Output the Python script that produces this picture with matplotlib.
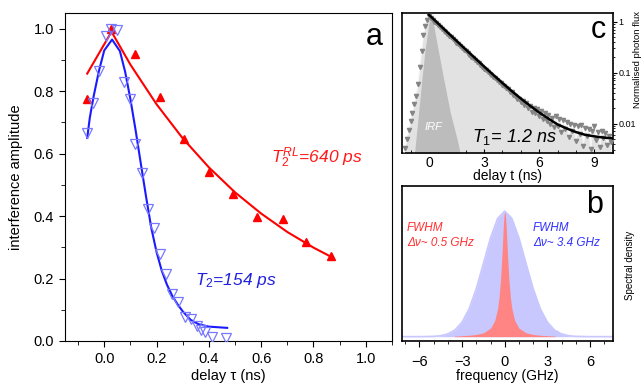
import matplotlib
matplotlib.use('Agg')
import matplotlib.pyplot as plt
from matplotlib.ticker import MultipleLocator, FixedLocator, NullFormatter, LogLocator

plt.rcParams['font.family'] = ['Liberation Sans', 'DejaVu Sans']
plt.rcParams['mathtext.fontset'] = 'custom'
plt.rcParams['mathtext.rm'] = 'Liberation Sans'
plt.rcParams['mathtext.it'] = 'Liberation Sans:italic'

# ---- panel a: interference amplitude vs delay ----
red_tau = [-0.065, 0.025, 0.119, 0.213, 0.306, 0.400, 0.494, 0.585, 0.682, 0.773, 0.867]
red_amp = [0.774, 1.0, 0.919, 0.781, 0.648, 0.540, 0.470, 0.397, 0.391, 0.317, 0.272]
red_fit_tau = [-0.065, 0.028, 0.1, 0.2, 0.3, 0.4, 0.5, 0.6, 0.7, 0.8, 0.873]
red_fit_amp = [0.856, 0.99, 0.885, 0.758, 0.649, 0.556, 0.476, 0.408, 0.349, 0.299, 0.267]

blue_tau = [-0.065, -0.041, -0.019, 0.005, 0.025, 0.05, 0.074, 0.097, 0.119, 0.144, 0.166,
            0.191, 0.215, 0.238, 0.260, 0.283, 0.310, 0.333, 0.354, 0.371, 0.386, 0.412, 0.466]
blue_amp = [0.667, 0.761, 0.865, 0.975, 1.0, 0.995, 0.829, 0.776, 0.630, 0.537, 0.422,
            0.363, 0.278, 0.213, 0.152, 0.125, 0.077, 0.070, 0.047, 0.036, 0.030, 0.013, 0.011]
blue_fit_tau = [-0.065, -0.055, -0.04, -0.02, 0.0, 0.03, 0.06, 0.08, 0.10, 0.12, 0.14, 0.16,
                0.18, 0.20, 0.22, 0.24, 0.26, 0.28, 0.30, 0.33, 0.36, 0.40, 0.47]
blue_fit_amp = [0.650, 0.715, 0.785, 0.865, 0.930, 0.965, 0.928, 0.862, 0.775, 0.675, 0.568, 0.462,
                0.362, 0.285, 0.225, 0.180, 0.145, 0.118, 0.095, 0.068, 0.054, 0.046, 0.042]

# ---- panel c: time-resolved photon flux ----
t_data = [-1.4, -1.3, -1.2, -1.1, -1.0, -0.9, -0.8, -0.7, -0.6, -0.5, -0.4, -0.3, -0.2, -0.1,
          0.0, 0.1, 0.2, 0.3, 0.4, 0.5, 0.6, 0.7, 0.8, 0.9, 1.0, 1.1, 1.2, 1.3, 1.4, 1.5,
          1.6, 1.7, 1.8, 1.9, 2.0, 2.1, 2.2, 2.3, 2.4, 2.5, 2.6, 2.7, 2.8, 2.9, 3.0,
          3.1, 3.2, 3.3, 3.4, 3.5, 3.6, 3.7, 3.8, 3.9, 4.0, 4.1, 4.2, 4.3, 4.4, 4.5,
          4.6, 4.7, 4.8, 4.9, 5.0, 5.1, 5.2, 5.3, 5.4, 5.5, 5.6, 5.7, 5.8, 5.9, 6.0,
          6.1, 6.2, 6.3, 6.4, 6.5, 6.6, 6.7, 6.8, 6.9, 7.0, 7.1, 7.2, 7.3, 7.4, 7.5,
          7.6, 7.7, 7.8, 7.9, 8.0, 8.1, 8.2, 8.3, 8.4, 8.5, 8.6, 8.7, 8.8, 8.9, 9.0,
          9.1, 9.2, 9.3, 9.4, 9.5, 9.6, 9.7, 9.8, 9.9]
flux_data = [0.0022, 0.0033, 0.0049, 0.0074, 0.011, 0.016, 0.024, 0.035, 0.060, 0.126, 0.27, 0.54, 0.83, 1.10,
             1.32, 1.20, 1.09, 1.00, 0.93, 0.85, 0.79, 0.73, 0.67, 0.62, 0.575, 0.53, 0.49, 0.455, 0.42, 0.385,
             0.36, 0.33, 0.305, 0.283, 0.262, 0.24, 0.224, 0.205, 0.19, 0.176, 0.163, 0.151, 0.139, 0.129, 0.12,
             0.111, 0.103, 0.096, 0.089, 0.083, 0.077, 0.072, 0.066, 0.062, 0.057, 0.054, 0.049, 0.047, 0.042, 0.041,
             0.036, 0.035, 0.031, 0.031, 0.027, 0.028, 0.023, 0.025, 0.020, 0.022, 0.017, 0.020, 0.016, 0.019, 0.014,
             0.018, 0.012, 0.016, 0.011, 0.015, 0.010, 0.013, 0.0085, 0.014, 0.009, 0.012, 0.0068, 0.0115, 0.0078, 0.0105,
             0.0055, 0.0098, 0.0072, 0.0092, 0.0045, 0.0088, 0.0062, 0.0095, 0.0036, 0.0082, 0.0058, 0.0078, 0.0032, 0.0072, 0.0088,
             0.0048, 0.0068, 0.0034, 0.0072, 0.0052, 0.0065, 0.0038, 0.0058, 0.0044]
t_fit = [0.0, 0.5, 1.0, 1.5, 2.0, 2.5, 3.0, 3.5, 4.0, 4.5, 5.0, 5.5, 6.0, 6.5, 7.0, 7.5, 8.0, 8.5, 9.0, 9.5, 10.0]
flux_fit = [1.365, 0.921, 0.622, 0.421, 0.285, 0.194, 0.132, 0.0904, 0.0625, 0.0436, 0.031, 0.0224,
            0.0165, 0.0125, 0.0096, 0.0080, 0.0068, 0.0060, 0.0056, 0.0053, 0.0051]
t_irf = [-0.85, -0.78, -0.6, -0.38, -0.2, 0.07, 0.26, 0.53, 0.80, 1.16, 1.53, 1.85]
flux_irf = [0.0015, 0.0027, 0.012, 0.076, 0.30, 1.36, 0.85, 0.25, 0.076, 0.0166, 0.005, 0.0015]

# ---- panel b: spectra ----
freq_blue = [-7.3, -6.0, -5.0, -4.5, -4.0, -3.5, -3.0, -2.5, -2.0, -1.5, -1.0, -0.5, 0.0,
             0.5, 1.0, 1.5, 2.0, 2.5, 3.0, 3.5, 4.0, 4.5, 5.0, 6.0, 7.6]
dens_blue = [0.0, 0.0002, 0.0025, 0.0078, 0.0216, 0.053, 0.116, 0.223, 0.383, 0.583, 0.787, 0.942, 1.0,
             0.942, 0.787, 0.583, 0.383, 0.223, 0.116, 0.053, 0.0216, 0.0078, 0.0025, 0.0002, 0.0]
freq_red = [-3.6, -3.5, -3.0, -2.5, -2.0, -1.5, -1.0, -0.7, -0.5, -0.4, -0.3, -0.2, -0.1, -0.05, 0.0,
            0.05, 0.1, 0.2, 0.3, 0.4, 0.5, 0.7, 1.0, 1.5, 2.0, 2.5, 3.0, 3.5, 3.6]
dens_red = [0.0, 0.005, 0.008, 0.0115, 0.018, 0.031, 0.068, 0.13, 0.226, 0.313, 0.447, 0.645, 0.88, 0.967, 1.0,
            0.967, 0.88, 0.645, 0.447, 0.313, 0.226, 0.13, 0.068, 0.031, 0.018, 0.0115, 0.008, 0.005, 0.0]

fig = plt.figure(figsize=(6.42, 3.86), dpi=100)

# ================= a =================
ax = fig.add_axes([0.1012, 0.1166, 0.5093, 0.8497])
ax.plot(red_fit_tau, red_fit_amp, '-', color='#ff0000', lw=1.5, zorder=3)
ax.plot(blue_fit_tau, blue_fit_amp, '-', color='#1a1aff', lw=1.5, zorder=3)
ax.plot(red_tau, red_amp, '^', color='#ff0000', markersize=6, zorder=4)
ax.plot(blue_tau, blue_amp, 'v', mfc='none', mec='#7878ff', mew=0.9, markersize=6.5, zorder=4)
ax.set_xlim(-0.15, 1.1)
ax.set_ylim(0, 1.05)
ax.xaxis.set_major_locator(FixedLocator([0.0, 0.2, 0.4, 0.6, 0.8, 1.0]))
ax.xaxis.set_minor_locator(MultipleLocator(0.1))
ax.yaxis.set_major_locator(MultipleLocator(0.2))
ax.yaxis.set_minor_locator(MultipleLocator(0.1))
ax.xaxis.set_major_formatter(plt.FormatStrFormatter('%.1f'))
ax.yaxis.set_major_formatter(plt.FormatStrFormatter('%.1f'))
ax.tick_params(which='both', direction='out', labelsize=10.5, top=False, right=False)
ax.tick_params(which='major', length=4.5)
ax.tick_params(which='minor', length=3)
ax.set_xlabel(u'delay \u03c4 (ns)', fontsize=10.5)
ax.set_ylabel('interference amplitude', fontsize=10.5)
ax.xaxis.set_label_coords(0.5, -0.085)
ax.yaxis.set_label_coords(-0.128, 0.5)
ax.text(0.639, 0.570, r'$\mathit{T_2^{RL}}$=640 ps', color='#ff1a1a', fontsize=12.5,
        style='italic', va='baseline')
ax.text(0.346, 0.179, r'$\mathit{T_2}$=154 ps', color='#2020e0', fontsize=12.5,
        style='italic', va='baseline')
ax.text(0.972, 0.902, 'a', transform=ax.transAxes, fontsize=22, ha='right', va='baseline')

# ================= c =================
axc = fig.add_axes([0.6266, 0.6028, 0.3277, 0.3627])
axc.set_yscale('log')
axc.fill_between(t_data, 1e-4, flux_data, color='#e2e2e2', lw=0, zorder=1)
axc.fill_between(t_irf, 1e-4, flux_irf, color='#bcbcbc', lw=0, zorder=2)
axc.plot(t_data, flux_data, '-', color='#f4f4f4', lw=0.6, zorder=3)
axc.plot(t_data, flux_data, 'v', color='#858585', markersize=3.0, zorder=4)
axc.plot(t_fit, flux_fit, '-', color='black', lw=1.8, zorder=5)
axc.set_xlim(-1.45, 10)
axc.set_ylim(0.0026, 1.46)
axc.xaxis.set_major_locator(FixedLocator([0, 3, 6, 9]))
axc.xaxis.set_minor_locator(MultipleLocator(1))
axc.yaxis.tick_right()
axc.yaxis.set_major_locator(FixedLocator([0.01, 0.1, 1]))
axc.yaxis.set_major_formatter(plt.FixedFormatter(['0.01', '0.1', '1']))
axc.yaxis.set_minor_locator(LogLocator(base=10, subs=range(2, 10)))
axc.yaxis.set_minor_formatter(NullFormatter())
axc.tick_params(axis='x', which='both', direction='in', labelsize=10, pad=2)
axc.tick_params(axis='x', which='major', length=3)
axc.tick_params(axis='x', which='minor', length=2)
axc.tick_params(axis='y', which='both', direction='out', labelsize=6.5, pad=1, left=False, right=True)
axc.tick_params(axis='y', which='major', length=3)
axc.tick_params(axis='y', which='minor', length=1.5)
for s in axc.spines.values():
    s.set_linewidth(1.2)
axc.set_xlabel('delay t (ns)', fontsize=10)
axc.xaxis.set_label_coords(0.5, -0.115)
axc.text(0.25, 0.0087, 'IRF', color='white', fontsize=8, style='italic', ha='center', va='center', zorder=6)
axc.text(2.33, 0.0044, r'$\mathit{T_1}$= 1.2 ns', fontsize=13, style='italic', va='baseline', zorder=6)
axc.text(0.968, 0.821, 'c', transform=axc.transAxes, fontsize=22, ha='right', va='baseline', zorder=6)
fig.text(638 / 642, 1 - 60 / 386, 'Normalised photon flux', rotation=90, fontsize=6.8,
         ha='center', va='center')

# ================= b =================
axb = fig.add_axes([0.6257, 0.1174, 0.3287, 0.4008])
axb.fill_between(freq_blue, 0, dens_blue, color='#c8c8ff', lw=0)
axb.plot(freq_blue, dens_blue, '-', color='#c8c8ff', lw=1.2)
axb.fill_between(freq_red, 0, dens_red, color='#ff8585', lw=0)
axb.set_xlim(-7.25, 7.6)
axb.set_ylim(-0.032, 1.2)
axb.set_yticks([])
axb.xaxis.set_major_locator(FixedLocator([-6, -3, 0, 3, 6]))
axb.xaxis.set_minor_locator(MultipleLocator(1))
axb.tick_params(axis='x', which='both', direction='out', labelsize=10.5, top=False, pad=6)
axb.tick_params(axis='x', which='major', length=4)
axb.tick_params(axis='x', which='minor', length=2.5)
for s in axb.spines.values():
    s.set_linewidth(1.2)
axb.set_xlabel('frequency (GHz)', fontsize=10)
axb.xaxis.set_label_coords(0.5, -0.185)
axb.text(0.024, 0.729, 'FWHM', transform=axb.transAxes, color='#ff3030', fontsize=8.5,
         style='italic', va='center')
axb.text(0.024, 0.63, u'\u0394\u03bd~ 0.5 GHz', transform=axb.transAxes, color='#ff3030',
         fontsize=8.5, style='italic', va='center')
axb.text(0.622, 0.729, 'FWHM', transform=axb.transAxes, color='#3030ff', fontsize=8.5,
         style='italic', va='center')
axb.text(0.622, 0.63, u'\u0394\u03bd~ 3.4 GHz', transform=axb.transAxes, color='#3030ff',
         fontsize=8.5, style='italic', va='center')
axb.text(0.955, 0.824, 'b', transform=axb.transAxes, fontsize=22, ha='right', va='baseline')
fig.text(630 / 642, 1 - 265 / 386, 'Spectral density', rotation=90, fontsize=7,
         ha='center', va='center')

plt.savefig('out.png', dpi=100)
